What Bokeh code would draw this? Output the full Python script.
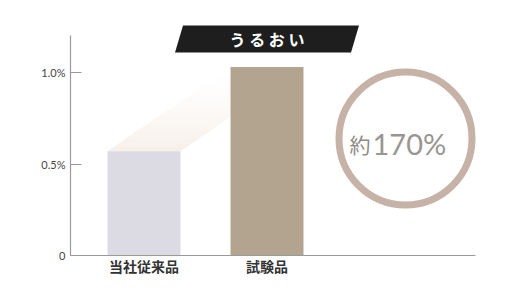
import numpy as np
from bokeh.plotting import figure
from bokeh.models import FixedTicker, Range1d
from bokeh.core.properties import value
from bokeh.embed import file_html
from bokeh.resources import INLINE

# ---- data ----
categories = ["当社従来品", "試験品"]
values = [0.57, 1.03]
y_ticks = [0, 0.5, 1.0]
y_tick_labels = ["0", "0.5%", "1.0%"]
title_text = "う る お い"
badge_prefix = "約"
badge_value = "170%"

# ---- layout constants ----
W, H = 494, 279
BORDER_L = 70
BORDER_B = 24
BASE = float(H - BORDER_B)          # pixel row of value 0
PX_X, PX_Y = 123.0, 183.0          # pixels per data unit
X0PIX = 143.5                       # pixel column of first category
x_start = -(X0PIX - BORDER_L) / PX_X
x_end = x_start + (W - BORDER_L) / PX_X
y_end = BASE / PX_Y
bar_w = 0.593

def px2x(px):
    return (px - X0PIX) / PX_X

def py2y(py):
    return (BASE - py) / PX_Y

xs = list(range(len(categories)))

p = figure(width=W, height=H, output_backend="svg", toolbar_location=None,
           x_range=Range1d(x_start, x_end), y_range=Range1d(0, y_end),
           min_border_left=BORDER_L, min_border_bottom=BORDER_B,
           min_border_top=0, min_border_right=0)
p.background_fill_color = "white"
p.border_fill_color = "white"
p.outline_line_color = None
p.grid.visible = False

# ---- gradient "growth" shading ----
x0, x1 = xs[0], xs[1]
v0, v1 = values[0], values[1]
xL0, xR0 = x0 - bar_w / 2, x0 + bar_w / 2
xL1 = x1 - bar_w / 2
N = 40
for i in range(N):
    t0, t1 = i / N, (i + 1) / N
    ya, yb = v0 + (v1 - v0) * t0, v0 + (v1 - v0) * t1
    la, lb = xL0 + (xL1 - xL0) * t0, xL0 + (xL1 - xL0) * t1
    ra, rb = min(xR0 + (xL1 - xL0) * t0, xL1), min(xR0 + (xL1 - xL0) * t1, xL1)
    alpha = 0.55 * (1 - (t0 + t1) / 2) ** 1.6
    p.patch([la, ra, rb, lb], [ya, ya, yb, yb], fill_color="#f0e2d6",
            fill_alpha=alpha, line_color=None)

# ---- bars ----
p.vbar(x=xs, top=values, width=bar_w, bottom=0,
       fill_color=["#dcdae3", "#b3a48f"], line_color=None)

# ---- title badge ----
tc_x = 1.0
ty_top, ty_bot = py2y(25), py2y(52)
half = 88 / PX_X
slant = 8 / PX_X
p.patch([tc_x - half + slant / 2, tc_x + half + slant / 2,
         tc_x + half - slant / 2, tc_x - half - slant / 2],
        [ty_top, ty_top, ty_bot, ty_bot], fill_color="#1e1e1e", line_color=None)
p.text(x=[tc_x], y=[(ty_top + ty_bot) / 2], text=[title_text],
       text_font=value("Noto Sans CJK JP"), text_font_style="bold",
       text_font_size="16px", text_color="white",
       text_align="center", text_baseline="middle")

# ---- badge ring ----
cx, cy = px2x(405), py2y(138)
p.circle(x=[cx], y=[cy], radius=66.5, radius_units="screen",
         fill_color=None, line_color="#c6b2a6", line_width=7)
p.text(x=[cx], y=[cy], text=[badge_prefix], x_offset=-35, y_offset=5,
       text_font=value("Noto Sans CJK JP"), text_font_size="21px",
       text_color="#8f8a85", text_align="right", text_baseline="middle")
p.text(x=[cx], y=[cy], text=[badge_value], x_offset=-33, y_offset=5,
       text_font=value("Lato"), text_font_size="29px",
       text_color="#9a9590", text_align="left", text_baseline="middle")

# ---- axes ----
ax = p.yaxis[0]
ax.ticker = FixedTicker(ticks=y_ticks)
ax.major_label_overrides = {t: l for t, l in zip(y_ticks, y_tick_labels)}
ax.bounds = (0, py2y(35))
ax.axis_line_color = "#9a9a9a"
ax.axis_line_width = 1.2
ax.major_tick_in = 11
ax.major_tick_out = 0
ax.major_tick_line_color = "#9a9a9a"
ax.minor_tick_line_color = None
ax.major_label_standoff = 5
ax.major_label_text_font = "Lato"
ax.major_label_text_font_size = "11px"
ax.major_label_text_color = "#444444"

bx = p.xaxis[0]
bx.ticker = FixedTicker(ticks=xs)
bx.major_label_overrides = {x: c for x, c in zip(xs, categories)}
bx.bounds = (x_start, px2x(475))
bx.axis_line_color = "#9a9a9a"
bx.axis_line_width = 1.2
bx.major_tick_line_color = None
bx.minor_tick_line_color = None
bx.major_label_standoff = -6
bx.major_label_text_font = "Noto Sans CJK JP"
bx.major_label_text_font_style = "bold"
bx.major_label_text_font_size = "14px"
bx.major_label_text_color = "#333333"

open("out.html", "w").write(file_html(p, INLINE))
